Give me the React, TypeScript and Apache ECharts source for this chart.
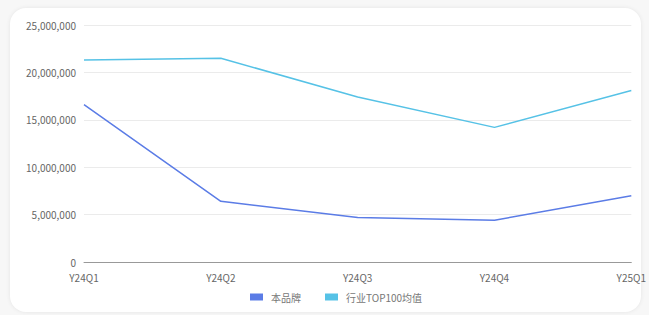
import React, { useEffect, useRef } from "react";
import * as echarts from "echarts";

const categories = ["Y24Q1", "Y24Q2", "Y24Q3", "Y24Q4", "Y25Q1"];
const brandValues = [16600000, 6400000, 4700000, 4400000, 7000000];
const top100Values = [21300000, 21500000, 17400000, 14200000, 18100000];
const seriesNames = ["本品牌", "行业TOP100均值"];

export default function App() {
  const ref = useRef<HTMLDivElement>(null);
  useEffect(() => {
    if (!ref.current) return;
    const chart = echarts.init(ref.current, null, { renderer: "svg" });
    const font = "'Noto Sans CJK SC', 'Noto Sans', sans-serif";
    chart.setOption({
      animation: false,
      textStyle: { fontFamily: font },
      grid: { left: 84, right: 16, top: 25, bottom: 53 },
      legend: {
        bottom: 8,
        left: 245,
        icon: "rect",
        itemWidth: 13,
        itemHeight: 7,
        itemGap: 24,
        textStyle: { fontSize: 10, color: "#777", fontFamily: font, padding: [0, 0, 0, 3] },
        data: seriesNames,
      },
      xAxis: {
        type: "category",
        data: categories,
        boundaryGap: false,
        axisLine: { lineStyle: { color: "#999" } },
        axisTick: { show: false },
        axisLabel: { color: "#666", fontSize: 10, margin: 10 },
      },
      yAxis: {
        type: "value",
        min: 0,
        max: 25000000,
        interval: 5000000,
        axisLabel: {
          color: "#666",
          fontSize: 10,
          margin: 8,
          formatter: (v: number) => v.toLocaleString("en-US"),
        },
        splitLine: { lineStyle: { color: "#ebebeb" } },
      },
      series: [
        {
          name: seriesNames[0],
          type: "line",
          data: brandValues,
          symbol: "none",
          color: "#5b7ce6",
          lineStyle: { width: 1.5 },
        },
        {
          name: seriesNames[1],
          type: "line",
          data: top100Values,
          symbol: "none",
          color: "#56c2e6",
          lineStyle: { width: 1.5 },
        },
      ],
    });
    return () => chart.dispose();
  }, []);
  return (
    <div
      style={{
        position: "fixed",
        left: 0,
        top: 0,
        width: 649,
        height: 315,
        background: "#f7f7f7",
        overflow: "hidden",
      }}
    >
      <div
        style={{
          position: "absolute",
          left: 10,
          top: 8,
          width: 631,
          height: 304,
          background: "#fff",
          borderRadius: 16,
          boxShadow: "0 0 4px rgba(0,0,0,0.08)",
        }}
      />
      <div ref={ref} style={{ position: "absolute", left: 0, top: 0, width: 649, height: 315 }} />
    </div>
  );
}
